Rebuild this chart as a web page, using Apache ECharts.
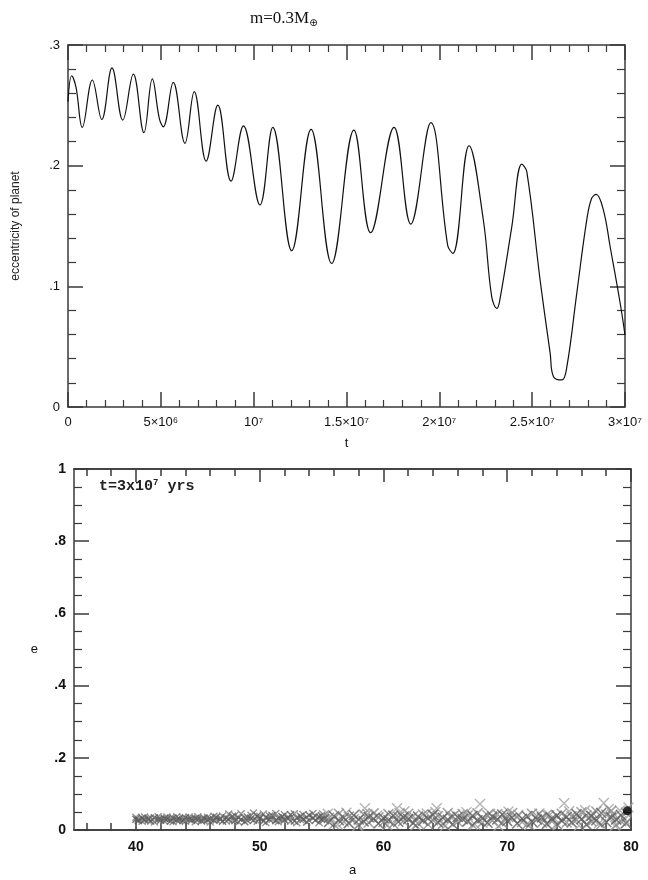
<!DOCTYPE html>
<html>
<head>
<meta charset="utf-8">
<script src="https://cdn.jsdelivr.net/npm/echarts@6/dist/echarts.min.js"></script>
<style>
  html, body { margin: 0; padding: 0; background: #fff; }
  #main { width: 648px; height: 880px; }
</style>
</head>
<body>
<div id="main"></div>
<script>
// top panel: eccentricity of the planet vs time (years)
const timeYears = [
  0, 0.2e6, 0.43e6, 0.77e6, 1.31e6, 1.82e6, 2.37e6, 2.95e6, 3.52e6, 4.09e6,
  4.54e6, 4.92e6, 5.13e6, 5.67e6, 6.3e6, 6.8e6, 7.44e6, 8.07e6, 8.78e6, 9.45e6,
  10.34e6, 11.03e6, 12.05e6, 13.09e6, 14.2e6, 15.4e6, 16.3e6, 17.56e6, 18.46e6, 19.54e6,
  20.45e6, 20.73e6, 21.6e6, 22.37e6, 22.82e6, 23.1e6, 23.25e6, 23.9e6, 24.44e6, 24.71e6,
  25.43e6, 25.97e6, 26.15e6, 26.6e6, 26.87e6, 27.4e6, 27.94e6, 28.2e6, 28.45e6, 28.84e6,
  29.2e6, 29.74e6, 30e6
]
const eccPlanet = [
  0.253, 0.2745, 0.265, 0.2317, 0.271, 0.2383, 0.281, 0.2378, 0.2759, 0.2273,
  0.272, 0.239, 0.2322, 0.269, 0.2185, 0.2613, 0.2038, 0.2502, 0.1872, 0.233,
  0.1674, 0.2317, 0.1295, 0.230, 0.119, 0.2295, 0.1444, 0.2317, 0.1516, 0.2356,
  0.134, 0.1273, 0.2165, 0.155, 0.0914, 0.0818, 0.088, 0.149, 0.2013, 0.195,
  0.105, 0.0445, 0.0251, 0.0224, 0.0334, 0.094, 0.155, 0.1728, 0.1762, 0.163,
  0.1328, 0.086, 0.0597
]
const topXTicks = [0, 5e6, 1e7, 1.5e7, 2e7, 2.5e7, 3e7]
const topXLabels = ['0', '5×10⁶', '10⁷', '1.5×10⁷', '2×10⁷', '2.5×10⁷', '3×10⁷']
const topYLabels = { '0': '0', '0.1': '.1', '0.2': '.2', '0.3': '.3' }

// bottom panel: test particles (a, e) at t = 3x10^7 yrs
const innerA = [
  40.0, 40.2, 40.5, 40.7, 41.0, 41.2, 41.5, 41.8, 42.0, 42.3, 42.5, 42.8, 43.0, 43.3, 43.5, 43.8,
  44.0, 44.3, 44.5, 44.8, 45.0, 45.3, 45.5, 45.8, 46.0, 46.3, 46.5, 46.8, 47.0, 47.3, 47.5, 47.8,
  48.0, 48.3, 48.5, 48.8, 49.0, 49.3, 49.5, 49.8, 50.0, 50.3, 50.5, 50.8, 51.0, 51.3, 51.5, 51.8,
  52.0, 52.3, 52.5, 52.8, 53.0, 53.3, 53.5, 53.8, 54.0, 54.3, 54.5, 54.8, 55.0
]
const innerE = [
  0.030, 0.026, 0.033, 0.028, 0.031, 0.025, 0.034, 0.029, 0.027, 0.032, 0.030, 0.025, 0.033, 0.028, 0.031, 0.026,
  0.034, 0.029, 0.027, 0.032, 0.030, 0.025, 0.033, 0.028, 0.031, 0.027, 0.035, 0.029, 0.024, 0.033, 0.030, 0.038,
  0.026, 0.034, 0.029, 0.023, 0.036, 0.031, 0.027, 0.039, 0.032, 0.024, 0.035, 0.029, 0.040, 0.026, 0.033, 0.037,
  0.028, 0.031, 0.042, 0.025, 0.034, 0.038, 0.029, 0.022, 0.041, 0.033, 0.027, 0.036, 0.030
]
const innerE2 = [
  0.035, 0.029, 0.024, 0.036, 0.027, 0.033, 0.022, 0.037, 0.031, 0.025, 0.036, 0.033, 0.023, 0.037, 0.026, 0.034,
  0.024, 0.036, 0.032, 0.023, 0.037, 0.031, 0.026, 0.035, 0.022, 0.038, 0.028, 0.033, 0.039, 0.025, 0.044, 0.027,
  0.040, 0.022, 0.045, 0.033, 0.026, 0.041, 0.047, 0.024, 0.038, 0.044, 0.021, 0.039, 0.030, 0.046, 0.023, 0.028,
  0.042, 0.036, 0.024, 0.045, 0.020, 0.029, 0.043, 0.036, 0.026, 0.046, 0.039, 0.021, 0.040
]
const outerDarkA = [
  55.2, 55.6, 56.0, 56.4, 56.8, 57.2, 57.6, 58.0, 58.4, 58.8, 59.2, 59.6, 60.0, 60.4, 60.8, 61.2,
  61.6, 62.0, 62.4, 62.8, 63.2, 63.6, 64.0, 64.4, 64.8, 65.2, 65.6, 66.0, 66.4, 66.8, 67.2, 67.6,
  68.0, 68.4, 68.8, 69.2, 69.6, 70.0, 70.4, 70.8, 71.2, 71.6, 72.0, 72.4, 72.8, 73.2, 73.6, 74.0,
  74.4, 74.8, 75.2, 75.6, 76.0, 76.4, 76.8, 77.2, 77.6, 78.0, 78.4, 78.8, 79.2, 79.6
]
const outerDarkE = [
  0.030, 0.022, 0.038, 0.027, 0.034, 0.019, 0.041, 0.029, 0.024, 0.036, 0.031, 0.018, 0.033, 0.027, 0.040, 0.023,
  0.035, 0.030, 0.019, 0.037, 0.026, 0.032, 0.042, 0.021, 0.034, 0.028, 0.016, 0.036, 0.030, 0.024, 0.039, 0.027,
  0.033, 0.020, 0.037, 0.029, 0.043, 0.025, 0.034, 0.018, 0.031, 0.038, 0.023, 0.029, 0.035, 0.017, 0.032, 0.040,
  0.026, 0.036, 0.021, 0.044, 0.030, 0.015, 0.039, 0.027, 0.047, 0.022, 0.035, 0.029, 0.041, 0.019
]
const outerDarkE2 = [
  0.041, 0.034, 0.016, 0.045, 0.023, 0.037, 0.030, 0.014, 0.043, 0.021, 0.046, 0.035, 0.022, 0.044, 0.017, 0.036,
  0.025, 0.045, 0.038, 0.018, 0.043, 0.015, 0.027, 0.039, 0.017, 0.047, 0.038, 0.023, 0.044, 0.040, 0.014, 0.046,
  0.021, 0.041, 0.026, 0.044, 0.019, 0.039, 0.047, 0.036, 0.022, 0.016, 0.045, 0.039, 0.020, 0.042, 0.024, 0.016,
  0.045, 0.021, 0.038, 0.028, 0.049, 0.040, 0.024, 0.051, 0.016, 0.043, 0.053, 0.014, 0.024, 0.048
]
const outerLightA = [
  55.5, 56.3, 57.0, 57.9, 58.5, 58.7, 59.5, 60.3, 61.1, 61.3, 61.7, 62.6, 63.5, 64.2, 64.3, 65.0,
  65.4, 65.8, 66.7, 67.4, 67.8, 68.6, 69.3, 69.9, 70.1, 70.9, 71.8, 72.6, 73.4, 73.8, 74.1, 74.6,
  75.0, 75.8, 76.3, 76.6, 76.9, 77.0, 77.4, 77.8, 78.2, 78.5, 78.7, 79.1, 79.5, 79.8
]
const outerLightE = [
  0.045, 0.015, 0.048, 0.012, 0.060, 0.044, 0.040, 0.014, 0.060, 0.047, 0.052, 0.013, 0.046, 0.050, 0.060, 0.012,
  0.037, 0.043, 0.049, 0.015, 0.072, 0.045, 0.011, 0.034, 0.051, 0.042, 0.014, 0.046, 0.041, 0.032, 0.013, 0.074,
  0.052, 0.012, 0.055, 0.035, 0.047, 0.028, 0.018, 0.075, 0.058, 0.043, 0.012, 0.054, 0.030, 0.062
]
const planetPoint = [[79.7, 0.053]]
const botXLabelValues = [40, 50, 60, 70, 80]
const botXMinorValues = [36, 38, 42, 44, 46, 48, 52, 54, 56, 58, 62, 64, 66, 68, 72, 74, 76, 78]
const botYLabels = { '0': '0', '0.2': '.2', '0.4': '.4', '0.6': '.6', '0.8': '.8', '1': '1' }

const zip = (xs, ys) => xs.map((x, i) => [x, ys[i]])
const cross = 'path://M0,0L10,10M10,0L0,10'
const axisColor = '#3a3a3a'
const textFont = 'Liberation Sans'

const lineStyleAxis = { color: axisColor, width: 1.5 }
const mkTopX = (position, showLabel) => ({
  gridIndex: 0, type: 'value', position: position,
  min: 0, max: 3e7, interval: 5e6,
  axisLine: { show: true, onZero: false, lineStyle: lineStyleAxis },
  axisTick: { show: true, inside: true, length: 15, lineStyle: lineStyleAxis },
  minorTick: { show: true, splitNumber: 5, length: 7, lineStyle: { color: axisColor, width: 1.2 } },
  splitLine: { show: false },
  axisLabel: {
    show: showLabel, margin: 9, color: '#111', fontFamily: textFont, fontSize: 13,
    formatter: v => topXLabels[topXTicks.indexOf(v)] || ''
  },
  name: showLabel ? 't' : '', nameLocation: 'middle', nameGap: 30,
  nameTextStyle: { color: '#111', fontFamily: textFont, fontSize: 13 }
})
const mkTopY = (position, showLabel) => ({
  gridIndex: 0, type: 'value', position: position,
  min: 0, max: 0.3, interval: 0.1,
  axisLine: { show: true, onZero: false, lineStyle: lineStyleAxis },
  axisTick: { show: true, inside: true, length: 15, lineStyle: lineStyleAxis },
  minorTick: { show: true, splitNumber: 5, length: 8, lineStyle: { color: axisColor, width: 1.2 } },
  splitLine: { show: false },
  axisLabel: {
    show: showLabel, margin: 8, color: '#111', fontFamily: textFont, fontSize: 13,
    formatter: v => topYLabels[String(+v.toFixed(2))] || ''
  },
  name: showLabel ? 'eccentricity of planet' : '', nameLocation: 'middle', nameGap: 46,
  nameTextStyle: { color: '#222', fontFamily: textFont, fontSize: 12 }
})
const mkBotX = (position, ticks, len, labels) => ({
  gridIndex: 1, type: 'value', position: position,
  min: 35, max: 80,
  axisLine: { show: true, onZero: false, lineStyle: lineStyleAxis },
  axisTick: { show: true, inside: true, length: len, customValues: ticks, lineStyle: lineStyleAxis },
  splitLine: { show: false },
  axisLabel: {
    show: labels, margin: 10, color: '#111', fontFamily: textFont, fontSize: 14, fontWeight: 'bold',
    customValues: botXLabelValues
  },
  name: labels ? 'a' : '', nameLocation: 'middle', nameGap: 34,
  nameTextStyle: { color: '#111', fontFamily: textFont, fontSize: 13 }
})
const mkBotY = (position, showLabel) => ({
  gridIndex: 1, type: 'value', position: position,
  min: 0, max: 1, interval: 0.2,
  axisLine: { show: true, onZero: false, lineStyle: lineStyleAxis },
  axisTick: { show: true, inside: true, length: 15, lineStyle: lineStyleAxis },
  minorTick: { show: true, splitNumber: 4, length: 8, lineStyle: { color: axisColor, width: 1.2 } },
  splitLine: { show: false },
  axisLabel: {
    show: showLabel, margin: 8, color: '#111', fontFamily: textFont, fontSize: 14, fontWeight: 'bold',
    formatter: v => botYLabels[String(+v.toFixed(2))] || ''
  },
  name: showLabel ? 'e' : '', nameLocation: 'middle', nameGap: 36, nameRotate: 0,
  nameTextStyle: { color: '#111', fontFamily: textFont, fontSize: 13 }
})

const chart = echarts.init(document.getElementById('main'), null, { renderer: 'canvas' })
chart.setOption({
  backgroundColor: '#fff',
  animation: false,
  title: {
    left: 245, top: 4,
    text: '{m|m=0.3M}{s|⊕}',
    textStyle: {
      fontWeight: 'normal',
      rich: {
        m: { fontFamily: 'Liberation Serif', fontWeight: 'normal', fontSize: 17, color: '#111' },
        s: { fontFamily: 'DejaVu Sans', fontWeight: 'normal', fontSize: 10, color: '#111', padding: [9, 0, 0, 0] }
      }
    }
  },
  graphic: [{
    type: 'text', left: 99, top: 478,
    style: {
      text: '{b|t=3x10}{s|7}{b| yrs}',
      rich: {
        b: { fontFamily: 'Liberation Mono', fontWeight: 'bold', fontSize: 15, fill: '#222' },
        s: { fontFamily: 'Liberation Mono', fontWeight: 'bold', fontSize: 9, fill: '#222', padding: [0, 0, 8, 0] }
      }
    }
  }],
  grid: [
    { left: 68, top: 45, width: 557, height: 362 },
    { left: 74, top: 469, width: 557, height: 361 }
  ],
  xAxis: [
    mkTopX('bottom', true),
    mkTopX('top', false),
    mkBotX('bottom', botXLabelValues, 13, true),
    mkBotX('bottom', botXMinorValues, 7, false),
    mkBotX('top', botXLabelValues, 13, false),
    mkBotX('top', botXMinorValues, 7, false)
  ],
  yAxis: [
    mkTopY('left', true),
    mkTopY('right', false),
    mkBotY('left', true),
    mkBotY('right', false)
  ],
  series: [
    {
      type: 'line', xAxisIndex: 0, yAxisIndex: 0,
      data: zip(timeYears, eccPlanet),
      smooth: 0.4, showSymbol: false,
      lineStyle: { color: '#111', width: 1.2 }
    },
    {
      type: 'scatter', xAxisIndex: 2, yAxisIndex: 2,
      data: zip(outerLightA, outerLightE),
      symbol: cross, symbolSize: 10,
      itemStyle: { color: 'rgba(0,0,0,0)', borderColor: '#a3a3a3', borderWidth: 1.4 }
    },
    {
      type: 'scatter', xAxisIndex: 2, yAxisIndex: 2,
      data: zip(outerDarkA, outerDarkE2),
      symbol: cross, symbolSize: 10,
      itemStyle: { color: 'rgba(0,0,0,0)', borderColor: '#8a8a8a', borderWidth: 1.5 }
    },
    {
      type: 'scatter', xAxisIndex: 2, yAxisIndex: 2,
      data: zip(outerDarkA, outerDarkE),
      symbol: cross, symbolSize: 10,
      itemStyle: { color: 'rgba(0,0,0,0)', borderColor: '#5e5e5e', borderWidth: 1.6 }
    },
    {
      type: 'scatter', xAxisIndex: 2, yAxisIndex: 2,
      data: zip(innerA, innerE2),
      symbol: cross, symbolSize: 7,
      itemStyle: { color: 'rgba(0,0,0,0)', borderColor: '#7a7a7a', borderWidth: 1.4 }
    },
    {
      type: 'scatter', xAxisIndex: 2, yAxisIndex: 2,
      data: zip(innerA, innerE),
      symbol: cross, symbolSize: 7,
      itemStyle: { color: 'rgba(0,0,0,0)', borderColor: '#5a5a5a', borderWidth: 1.5 }
    },
    {
      type: 'scatter', xAxisIndex: 2, yAxisIndex: 2,
      data: planetPoint,
      symbol: 'circle', symbolSize: 9,
      itemStyle: { color: '#000' }
    }
  ]
})

window.addEventListener('resize', () => chart && chart.resize())
</script>
</body>
</html>
